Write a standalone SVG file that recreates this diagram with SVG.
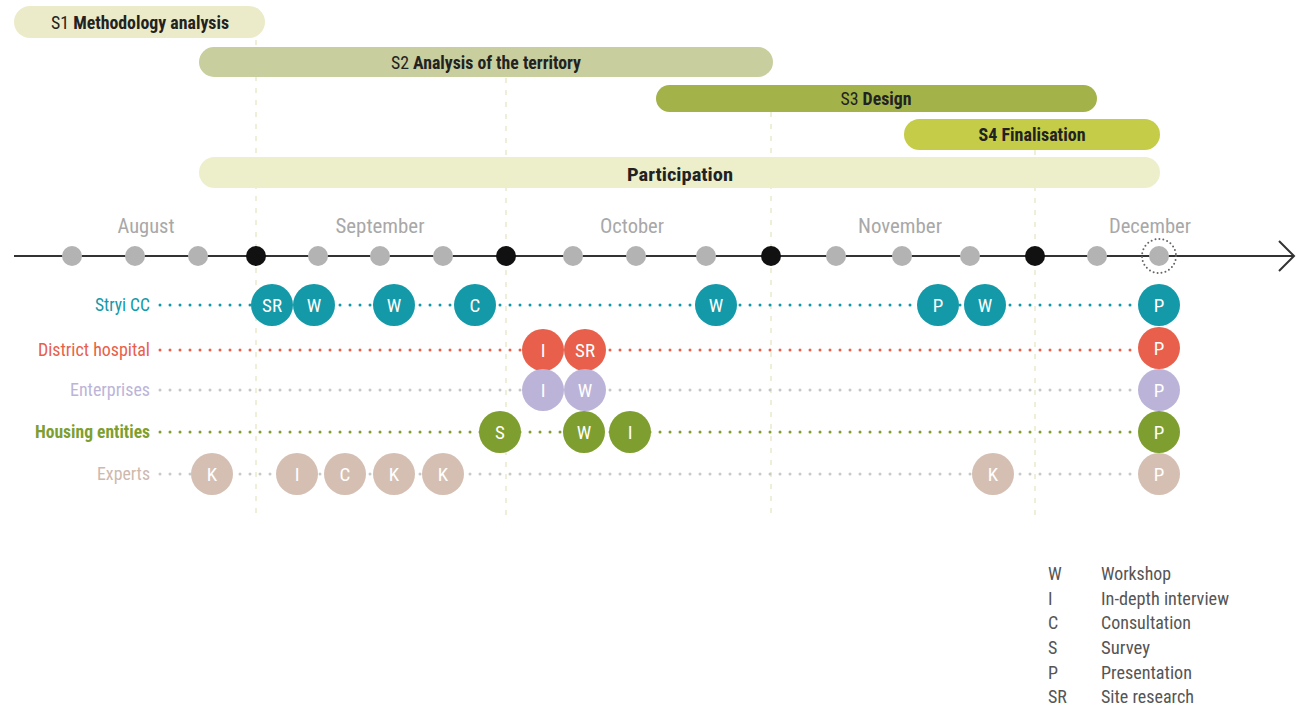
<svg xmlns="http://www.w3.org/2000/svg" width="1299" height="707" viewBox="0 0 1299 707">
<style>
text{font-family:"Roboto Condensed","Liberation Sans Narrow","DejaVu Sans Condensed",Roboto,"Liberation Sans",sans-serif;}
.bar-t{font-size:19px;fill:#222;text-anchor:middle;}
.b{font-weight:bold;}
.month{font-size:20px;fill:#a8a8a8;text-anchor:middle;}
.lbl{font-size:18px;text-anchor:end;}
.ct{font-size:19px;fill:#fff;text-anchor:middle;dominant-baseline:central;}
.leg{font-size:18px;fill:#555;}
.vgrid{stroke:#efeed8;stroke-width:2;stroke-dasharray:5 7;}
.row{stroke-width:3;stroke-linecap:round;stroke-dasharray:0 10;fill:none;}
.tdot{fill:#b3b3b3;}
.kdot{fill:#111;}
.teal{fill:#1399a8;} .red{fill:#e8604b;} .lav{fill:#bcb4d8;} .grn{fill:#7e9f2f;} .tan{fill:#d5bfb3;}
</style>
<g id="grid">
<line class="vgrid" x1="256" y1="40" x2="256" y2="520"/>
<line class="vgrid" x1="506" y1="78" x2="506" y2="520"/>
<line class="vgrid" x1="771" y1="112" x2="771" y2="520"/>
<line class="vgrid" x1="1035" y1="150" x2="1035" y2="520"/>
</g>
<g id="phases">
<g id="s1"><rect x="14" y="6" width="251" height="32" rx="16" fill="#ecebc9"/><text class="bar-t" x="140" y="29" textLength="178" lengthAdjust="spacingAndGlyphs">S1 <tspan class="b">Methodology analysis</tspan></text></g>
<g id="s2"><rect x="199" y="47" width="574" height="30" rx="15" fill="#c8ce9e"/><text class="bar-t" x="486" y="69" textLength="190" lengthAdjust="spacingAndGlyphs">S2 <tspan class="b">Analysis of the territory</tspan></text></g>
<g id="s3"><rect x="656" y="85" width="441" height="27" rx="13.5" fill="#a3b34a"/><text class="bar-t" x="876" y="105" textLength="71" lengthAdjust="spacingAndGlyphs">S3 <tspan class="b">Design</tspan></text></g>
<g id="s4"><rect x="904" y="119" width="256" height="31" rx="15.5" fill="#c5cc47"/><text class="bar-t b" x="1032" y="141" textLength="107" lengthAdjust="spacingAndGlyphs">S4 Finalisation</text></g>
<g id="participation"><rect x="199" y="157" width="961" height="31" rx="15.5" fill="#edefcb"/><text class="bar-t b" x="680" y="181" font-size="22" textLength="106" lengthAdjust="spacingAndGlyphs">Participation</text></g>
</g>
<g id="months">
<text class="month" x="146" y="233" textLength="57" lengthAdjust="spacingAndGlyphs">August</text>
<text class="month" x="380" y="233" textLength="89" lengthAdjust="spacingAndGlyphs">September</text>
<text class="month" x="632" y="233" textLength="64" lengthAdjust="spacingAndGlyphs">October</text>
<text class="month" x="900" y="233" textLength="84" lengthAdjust="spacingAndGlyphs">November</text>
<text class="month" x="1150" y="233" textLength="82" lengthAdjust="spacingAndGlyphs">December</text>
</g>
<g id="connectors">
<line x1="14" y1="256" x2="1293" y2="256" stroke="#333" stroke-width="2"/>
<polyline points="1279,241 1294,256 1279,271" fill="none" stroke="#333" stroke-width="2"/>
<line class="row" x1="160" y1="305" x2="1140" y2="305" stroke="#1399a8"/>
<line class="row" x1="160" y1="350" x2="1140" y2="350" stroke="#e8604b"/>
<line class="row" x1="160" y1="390" x2="1140" y2="390" stroke="#c6c6c6"/>
<line class="row" x1="160" y1="432" x2="1140" y2="432" stroke="#7e9f2f"/>
<line class="row" x1="160" y1="474" x2="1140" y2="474" stroke="#c9c9c9"/>
</g>
<g id="timeline-dots">
<circle class="tdot" cx="72" cy="256" r="10"/><circle class="tdot" cx="135" cy="256" r="10"/><circle class="tdot" cx="198" cy="256" r="10"/>
<circle class="kdot" cx="256" cy="256" r="10"/>
<circle class="tdot" cx="318" cy="256" r="10"/><circle class="tdot" cx="380" cy="256" r="10"/><circle class="tdot" cx="443" cy="256" r="10"/>
<circle class="kdot" cx="506" cy="256" r="10"/>
<circle class="tdot" cx="573" cy="256" r="10"/><circle class="tdot" cx="636" cy="256" r="10"/><circle class="tdot" cx="706" cy="256" r="10"/>
<circle class="kdot" cx="771" cy="256" r="10"/>
<circle class="tdot" cx="836" cy="256" r="10"/><circle class="tdot" cx="902" cy="256" r="10"/><circle class="tdot" cx="970" cy="256" r="10"/>
<circle class="kdot" cx="1035" cy="256" r="10"/>
<circle class="tdot" cx="1097" cy="256" r="10"/><circle class="tdot" cx="1159" cy="256" r="10"/>
<circle cx="1159" cy="256" r="17" fill="none" stroke="#666" stroke-width="2" stroke-linecap="round" stroke-dasharray="0 4"/>
</g>
<g id="stryi">
<text class="lbl" x="150" y="311" fill="#1399a8" textLength="55" lengthAdjust="spacingAndGlyphs">Stryi CC</text>
<circle class="teal" cx="272" cy="305" r="21"/><text class="ct" x="272" y="305" font-size="21">SR</text>
<circle class="teal" cx="314" cy="305" r="21"/><text class="ct" x="314" y="305">W</text>
<circle class="teal" cx="394" cy="305" r="21"/><text class="ct" x="394" y="305">W</text>
<circle class="teal" cx="475" cy="305" r="21"/><text class="ct" x="475" y="305">C</text>
<circle class="teal" cx="716" cy="305" r="21"/><text class="ct" x="716" y="305">W</text>
<circle class="teal" cx="938" cy="305" r="21"/><text class="ct" x="938" y="305">P</text>
<circle class="teal" cx="985" cy="305" r="21"/><text class="ct" x="985" y="305">W</text>
<circle class="teal" cx="1159" cy="305" r="21"/><text class="ct" x="1159" y="305">P</text>
</g>
<g id="hospital">
<text class="lbl" x="150" y="356" fill="#e8604b" textLength="112" lengthAdjust="spacingAndGlyphs">District hospital</text>
<circle class="red" cx="543" cy="350" r="21"/><text class="ct" x="543" y="350">I</text>
<circle class="red" cx="585" cy="350" r="21"/><text class="ct" x="585" y="350">SR</text>
<circle class="red" cx="1159" cy="348" r="21"/><text class="ct" x="1159" y="348">P</text>
</g>
<g id="enterprises">
<text class="lbl" x="150" y="396" fill="#bcb4d8" textLength="80" lengthAdjust="spacingAndGlyphs">Enterprises</text>
<circle class="lav" cx="543" cy="390" r="21"/><text class="ct" x="543" y="390">I</text>
<circle class="lav" cx="585" cy="390" r="21"/><text class="ct" x="585" y="390">W</text>
<circle class="lav" cx="1159" cy="390" r="21"/><text class="ct" x="1159" y="390">P</text>
</g>
<g id="housing">
<text class="lbl" x="150" y="438" fill="#7e9f2f" font-weight="bold" textLength="115" lengthAdjust="spacingAndGlyphs">Housing entities</text>
<circle class="grn" cx="500" cy="432" r="21"/><text class="ct" x="500" y="432">S</text>
<circle class="grn" cx="584" cy="432" r="21"/><text class="ct" x="584" y="432">W</text>
<circle class="grn" cx="630" cy="432" r="21"/><text class="ct" x="630" y="432">I</text>
<circle class="grn" cx="1159" cy="432" r="21"/><text class="ct" x="1159" y="432">P</text>
</g>
<g id="experts">
<text class="lbl" x="150" y="480" fill="#cdb9ae" textLength="53" lengthAdjust="spacingAndGlyphs">Experts</text>
<circle class="tan" cx="212" cy="474" r="21"/><text class="ct" x="212" y="474">K</text>
<circle class="tan" cx="297" cy="474" r="21"/><text class="ct" x="297" y="474">I</text>
<circle class="tan" cx="345" cy="474" r="21"/><text class="ct" x="345" y="474">C</text>
<circle class="tan" cx="394" cy="474" r="21"/><text class="ct" x="394" y="474">K</text>
<circle class="tan" cx="443" cy="474" r="21"/><text class="ct" x="443" y="474">K</text>
<circle class="tan" cx="993" cy="474" r="21"/><text class="ct" x="993" y="474">K</text>
<circle class="tan" cx="1159" cy="474" r="21"/><text class="ct" x="1159" y="474">P</text>
</g>
<g id="legend">
<text class="leg" x="1048" y="580">W</text><text class="leg" x="1101" y="580" textLength="70" lengthAdjust="spacingAndGlyphs">Workshop</text>
<text class="leg" x="1048" y="605">I</text><text class="leg" x="1101" y="605" textLength="128" lengthAdjust="spacingAndGlyphs">In-depth interview</text>
<text class="leg" x="1048" y="629">C</text><text class="leg" x="1101" y="629" textLength="90" lengthAdjust="spacingAndGlyphs">Consultation</text>
<text class="leg" x="1048" y="654">S</text><text class="leg" x="1101" y="654" textLength="49" lengthAdjust="spacingAndGlyphs">Survey</text>
<text class="leg" x="1048" y="679">P</text><text class="leg" x="1101" y="679" textLength="91" lengthAdjust="spacingAndGlyphs">Presentation</text>
<text class="leg" x="1048" y="703">SR</text><text class="leg" x="1101" y="703" textLength="93" lengthAdjust="spacingAndGlyphs">Site research</text>
</g>
</svg>
